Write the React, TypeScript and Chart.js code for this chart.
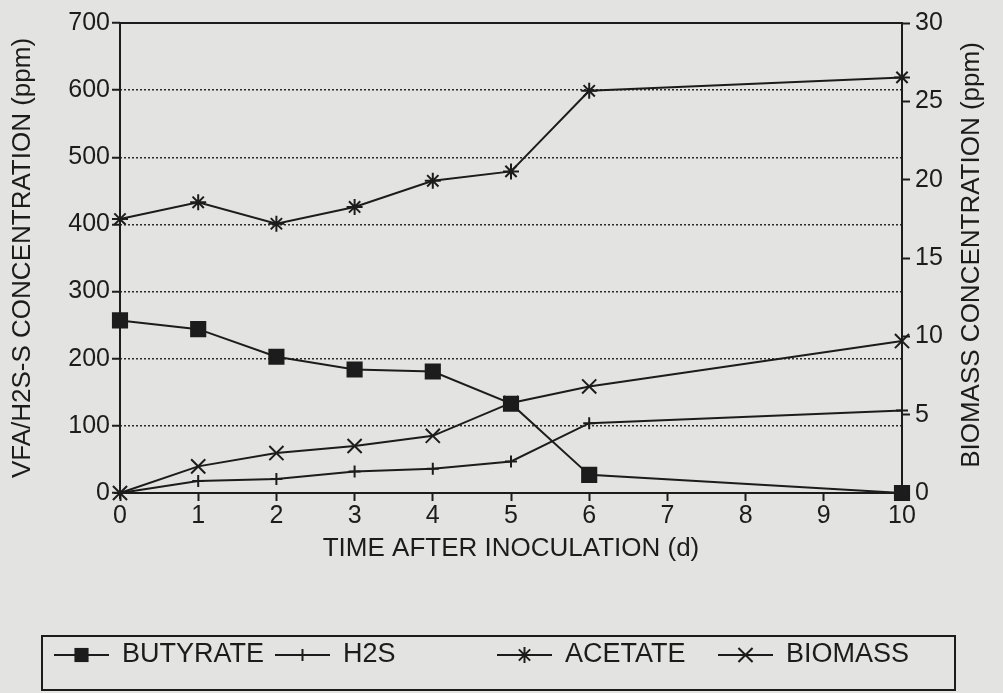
import React, { useEffect, useRef } from 'react';
import { Chart, registerables } from 'chart.js';

Chart.register(...registerables);

// ---- data ----
const DAYS = [0, 1, 2, 3, 4, 5, 6, 10];
const BUTYRATE = [257, 244, 203, 184, 181, 133, 27, 0];
const H2S = [0, 18, 21, 32, 36, 47, 104, 123];
const ACETATE = [408, 433, 401, 426, 465, 479, 599, 619];
const BIOMASS = [0, 1.7, 2.55, 3.0, 3.65, 5.75, 6.8, 9.7];
const SERIES_LABELS = ['BUTYRATE', 'H2S', 'ACETATE', 'BIOMASS'];
const X_TITLE = 'TIME AFTER INOCULATION (d)';
const Y_LEFT_TITLE = 'VFA/H2S-S CONCENTRATION (ppm)';
const Y_RIGHT_TITLE = 'BIOMASS CONCENTRATION (ppm)';

// ---- style ----
const BG = '#e3e3e1';
const INK = '#1c1c1c';
const FONT = "'Liberation Sans', Arial, Helvetica, sans-serif";

const STYLES = [
  { pointStyle: 'rect', radius: 10 },
  { pointStyle: 'cross', radius: 6 },
  { pointStyle: 'star', radius: 8 },
  { pointStyle: 'crossRot', radius: 10 },
];

function drawMarker(ctx: CanvasRenderingContext2D, style: string, x: number, y: number, r: number) {
  ctx.save();
  ctx.strokeStyle = INK;
  ctx.fillStyle = INK;
  ctx.lineWidth = 2;
  ctx.beginPath();
  const d = r * Math.SQRT1_2;
  if (style === 'rect') {
    ctx.fillRect(x - d, y - d, 2 * d, 2 * d);
    ctx.restore();
    return;
  }
  if (style === 'cross' || style === 'star') {
    ctx.moveTo(x, y - r);
    ctx.lineTo(x, y + r);
    ctx.moveTo(x - r, y);
    ctx.lineTo(x + r, y);
  }
  if (style === 'crossRot' || style === 'star') {
    ctx.moveTo(x - d, y - d);
    ctx.lineTo(x + d, y + d);
    ctx.moveTo(x - d, y + d);
    ctx.lineTo(x + d, y - d);
  }
  ctx.stroke();
  ctx.restore();
}

const framePlugin = {
  id: 'frameAndLegend',
  beforeDraw(chart: any) {
    const { ctx, width, height } = chart;
    ctx.save();
    ctx.fillStyle = BG;
    ctx.fillRect(0, 0, width, height);
    ctx.restore();
  },
  beforeDatasetsDraw(chart: any) {
    const { ctx, chartArea: a } = chart;
    ctx.save();
    ctx.strokeStyle = INK;
    ctx.lineWidth = 2;
    ctx.strokeRect(a.left, a.top, a.right - a.left, a.bottom - a.top);
    ctx.restore();
  },
  afterDraw(chart: any) {
    const { ctx, chartArea: a } = chart;
    // right axis title (reads bottom to top)
    ctx.save();
    ctx.fillStyle = INK;
    ctx.font = `26px ${FONT}`;
    ctx.textAlign = 'center';
    ctx.textBaseline = 'middle';
    ctx.translate(972, (a.top + a.bottom) / 2 - 3);
    ctx.rotate(-Math.PI / 2);
    ctx.fillText(Y_RIGHT_TITLE, 0, 0);
    ctx.restore();

    // legend box
    const boxL = 42, boxR = 955, boxT = 636, boxB = 690;
    ctx.save();
    ctx.strokeStyle = INK;
    ctx.lineWidth = 2;
    ctx.strokeRect(boxL, boxT, boxR - boxL, boxB - boxT);
    const starts = [54, 275, 497, 718];
    const yMid = 655;
    ctx.font = `27px ${FONT}`;
    ctx.textAlign = 'left';
    ctx.textBaseline = 'middle';
    chart.data.datasets.forEach((ds: any, i: number) => {
      const x0 = starts[i];
      ctx.strokeStyle = INK;
      ctx.lineWidth = 2;
      ctx.beginPath();
      ctx.moveTo(x0, yMid);
      ctx.lineTo(x0 + 55, yMid);
      ctx.stroke();
      drawMarker(ctx, STYLES[i].pointStyle, x0 + 27.5, yMid, STYLES[i].radius);
      ctx.fillStyle = INK;
      ctx.fillText(ds.label, x0 + 68, yMid);
    });
    ctx.restore();
  },
};

export default function App() {
  const ref = useRef<HTMLCanvasElement>(null);

  useEffect(() => {
    const canvas = ref.current;
    if (!canvas) return;
    const series = [BUTYRATE, H2S, ACETATE, BIOMASS];
    const datasets = series.map((vals, i) => ({
      label: SERIES_LABELS[i],
      data: DAYS.map((d, j) => ({ x: d, y: vals[j] })),
      yAxisID: i === 3 ? 'y2' : 'y',
      borderColor: INK,
      backgroundColor: INK,
      borderWidth: 2,
      pointStyle: STYLES[i].pointStyle,
      pointRadius: STYLES[i].radius,
      pointBorderWidth: 2,
      pointBorderColor: INK,
      pointBackgroundColor: INK,
      tension: 0,
      clip: false,
    }));

    const chart = new Chart(canvas, {
      type: 'line',
      data: { datasets } as any,
      plugins: [framePlugin],
      options: {
        animation: false,
        responsive: false,
        devicePixelRatio: 1,
        layout: { padding: { top: 23, bottom: 129, left: 0, right: 0 } },
        plugins: {
          legend: { display: false },
          tooltip: { enabled: false },
        },
        scales: {
          x: {
            type: 'linear',
            min: 0,
            max: 10,
            afterFit: (s: any) => { s.height = 71; },
            ticks: {
              stepSize: 1,
              color: INK,
              padding: 0,
              font: { family: FONT, size: 25 },
              maxRotation: 0,
            },
            grid: {
              drawOnChartArea: false,
              drawTicks: true,
              tickLength: 8,
              tickColor: INK,
              tickWidth: 2,
            },
            border: { display: false },
            title: {
              display: true,
              text: X_TITLE,
              color: INK,
              font: { family: FONT, size: 26 },
              padding: { top: 0, bottom: 0 },
            },
          },
          y: {
            type: 'linear',
            position: 'left',
            min: 0,
            max: 700,
            afterFit: (s: any) => { s.width = 120; },
            ticks: {
              stepSize: 100,
              color: INK,
              padding: 2,
              font: { family: FONT, size: 25 },
            },
            grid: {
              drawOnChartArea: true,
              color: (c: any) => (c.tick && (c.tick.value === 0 || c.tick.value === 700) ? 'rgba(0,0,0,0)' : '#2a2a2a'),
              lineWidth: 1.5,
              tickLength: 8,
              tickColor: INK,
              tickWidth: 2,
            },
            border: { display: false, dash: [2, 2] },
            title: {
              display: true,
              text: Y_LEFT_TITLE,
              color: INK,
              font: { family: FONT, size: 26 },
              padding: { top: 7, bottom: 0 },
            },
          },
          y2: {
            type: 'linear',
            position: 'right',
            min: 0,
            max: 30,
            afterFit: (s: any) => { s.width = 101; },
            ticks: {
              stepSize: 5,
              color: INK,
              padding: 5,
              font: { family: FONT, size: 25 },
            },
            grid: {
              drawOnChartArea: false,
              tickLength: 8,
              tickColor: INK,
              tickWidth: 2,
            },
            border: { display: false },
          },
        },
      } as any,
    });
    return () => chart.destroy();
  }, []);

  return (
    <div style={{ position: 'fixed', left: 0, top: 0, width: 1003, height: 693, background: BG }}>
      <canvas ref={ref} width={1003} height={693} style={{ display: 'block' }} />
    </div>
  );
}
